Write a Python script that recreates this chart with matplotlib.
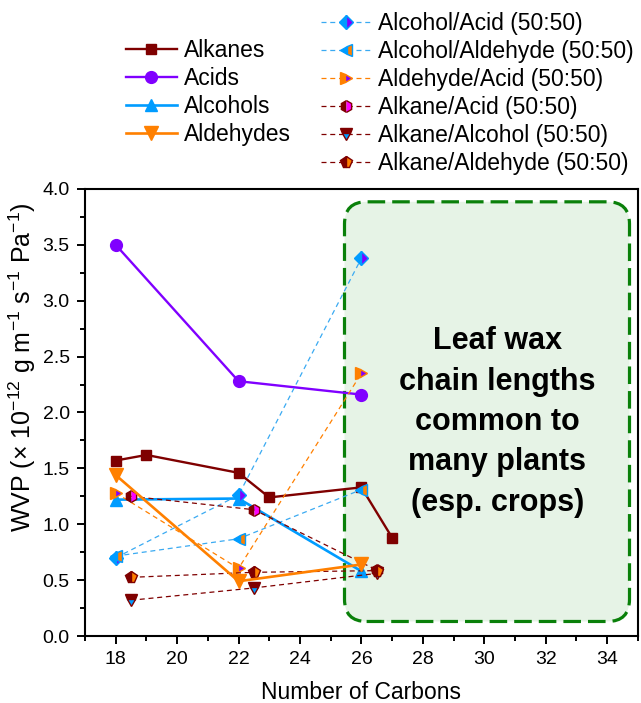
import matplotlib
matplotlib.use('Agg')
import matplotlib.pyplot as plt
from matplotlib.patches import FancyBboxPatch

plt.rcParams['font.family'] = ['Liberation Sans', 'DejaVu Sans']
plt.rcParams['mathtext.fontset'] = 'custom'
plt.rcParams['mathtext.rm'] = 'Liberation Sans'
plt.rcParams['mathtext.it'] = 'Liberation Sans:italic'

# pure compounds
alkanes_x = [18, 19, 22, 23, 26, 27]
alkanes_y = [1.57, 1.62, 1.46, 1.24, 1.33, 0.88]
acids_x = [18, 22, 26]
acids_y = [3.50, 2.28, 2.16]
alcohols_x = [18, 22, 26]
alcohols_y = [1.22, 1.23, 0.58]
aldehydes_x = [18, 22, 26]
aldehydes_y = [1.44, 0.49, 0.64]

# 50:50 mixtures
mix_x = [18, 22, 26]
mix_alk_x = [18.5, 22.5, 26.5]
alcohol_acid_y = [0.70, 1.26, 3.38]
alcohol_aldehyde_y = [0.715, 0.87, 1.31]
aldehyde_acid_y = [1.28, 0.605, 2.35]
alkane_acid_y = [1.25, 1.13, 0.59]
alkane_alcohol_y = [0.32, 0.43, 0.56]
alkane_aldehyde_y = [0.525, 0.57, 0.585]

maroon = '#7F0000'
purple = '#8000FF'
blue = '#009CFF'
lblue = '#3AAAF2'
orange = '#FF8000'
magenta = '#FF00FF'

fig = plt.figure(figsize=(6.41, 7.03), dpi=100)
ax = fig.add_axes([0.1326, 0.0953, 0.8624, 0.6359])
ax.set_xlim(17, 35)
ax.set_ylim(0, 4)

# highlighted region (corner rounding kept circular via mutation_aspect)
ax_w = 0.8624 * 641
ax_h = 0.6359 * 703
aspect = (ax_w / 18) / (ax_h / 4)
box = FancyBboxPatch((25.45, 0.13), 34.73 - 25.45, 3.885 - 0.13,
                     boxstyle='round,pad=0,rounding_size=0.72',
                     mutation_aspect=aspect,
                     facecolor='#E6F3E6', edgecolor='#0A800A', lw=2.3,
                     linestyle=(0, (5.5, 2.2)), zorder=1)
ax.add_patch(box)
ax.text(30.43, 1.915, 'Leaf wax\nchain lengths\ncommon to\nmany plants\n(esp. crops)',
        ha='center', va='center', fontsize=22, fontweight='bold',
        linespacing=1.45, zorder=2)

h_alkanes, = ax.plot(alkanes_x, alkanes_y, '-s', color=maroon, lw=1.7, ms=7.5, zorder=3)
h_acids, = ax.plot(acids_x, acids_y, '-o', color=purple, lw=1.7, ms=8.5, zorder=3)
h_alcohols, = ax.plot(alcohols_x, alcohols_y, '-^', color=blue, lw=1.9, ms=9, zorder=3)

mk = dict(lw=0.9, ms=8.5, zorder=4, dashes=(4, 3))
h_aa, = ax.plot(mix_x, alcohol_acid_y, '--D', color=lblue, mfc=blue, mfcalt=purple,
                mec=blue, fillstyle='left', ms=7, lw=0.9, dashes=(4, 3), zorder=4)
h_al, = ax.plot(mix_x, alcohol_aldehyde_y, '--<', color=lblue, mfc=blue, mfcalt=orange,
                mec=blue, fillstyle='left', **mk)
h_da, = ax.plot(mix_x, aldehyde_acid_y, '-->', color=orange, mfc=orange, mfcalt=purple,
                mec=orange, fillstyle='left', **mk)
h_ka, = ax.plot(mix_alk_x, alkane_acid_y, '--h', color=maroon, mfc=maroon, mfcalt=magenta,
                mec=maroon, fillstyle='left', **mk)
h_kl, = ax.plot(mix_alk_x, alkane_alcohol_y, '--v', color=maroon, mfc=maroon, mfcalt=blue,
                mec=maroon, fillstyle='top', **mk)
h_kd, = ax.plot(mix_alk_x, alkane_aldehyde_y, '--p', color=maroon, mfc=maroon, mfcalt=orange,
                mec=maroon, fillstyle='left', **mk)

h_aldehydes, = ax.plot(aldehydes_x, aldehydes_y, '-v', color=orange, lw=1.9, ms=9.5, zorder=5)

ax.set_xticks(range(18, 35, 2))
ax.set_xticks(range(17, 36), minor=True)
ax.set_yticks([0, 0.5, 1.0, 1.5, 2.0, 2.5, 3.0, 3.5, 4.0])
ax.set_yticks([i * 0.25 for i in range(17)], minor=True)
ax.yaxis.set_major_formatter(matplotlib.ticker.FormatStrFormatter('%.1f'))
ax.tick_params(which='both', direction='out', width=1.4, labelsize=14,
               top=False, right=False)
ax.tick_params(which='major', length=6, pad=5)
ax.tick_params(which='minor', length=3.5)
for s in ax.spines.values():
    s.set_linewidth(1.5)

ax.set_xlabel('Number of Carbons', fontsize=16.5, labelpad=9)
ax.set_ylabel(r'WVP ($\times$ 10$^{-12}$ g m$^{-1}$ s$^{-1}$ Pa$^{-1}$)', fontsize=18)
ax.yaxis.set_label_coords(-0.085, 0.6)

leg_kw = dict(loc='upper left', frameon=False, fontsize=16.5, handlelength=2.2,
              handletextpad=0.3, labelspacing=0.22, borderaxespad=0, borderpad=0)
fig.legend([h_alkanes, h_acids, h_alcohols, h_aldehydes],
           ['Alkanes', 'Acids', 'Alcohols', 'Aldehydes'],
           bbox_to_anchor=(0.197, 0.945), **leg_kw)
fig.legend([h_aa, h_al, h_da, h_ka, h_kl, h_kd],
           ['Alcohol/Acid (50:50)', 'Alcohol/Aldehyde (50:50)',
            'Aldehyde/Acid (50:50)', 'Alkane/Acid (50:50)',
            'Alkane/Alcohol (50:50)', 'Alkane/Aldehyde (50:50)'],
           bbox_to_anchor=(0.5008, 0.983), **leg_kw)

fig.savefig('out.png', dpi=100)
